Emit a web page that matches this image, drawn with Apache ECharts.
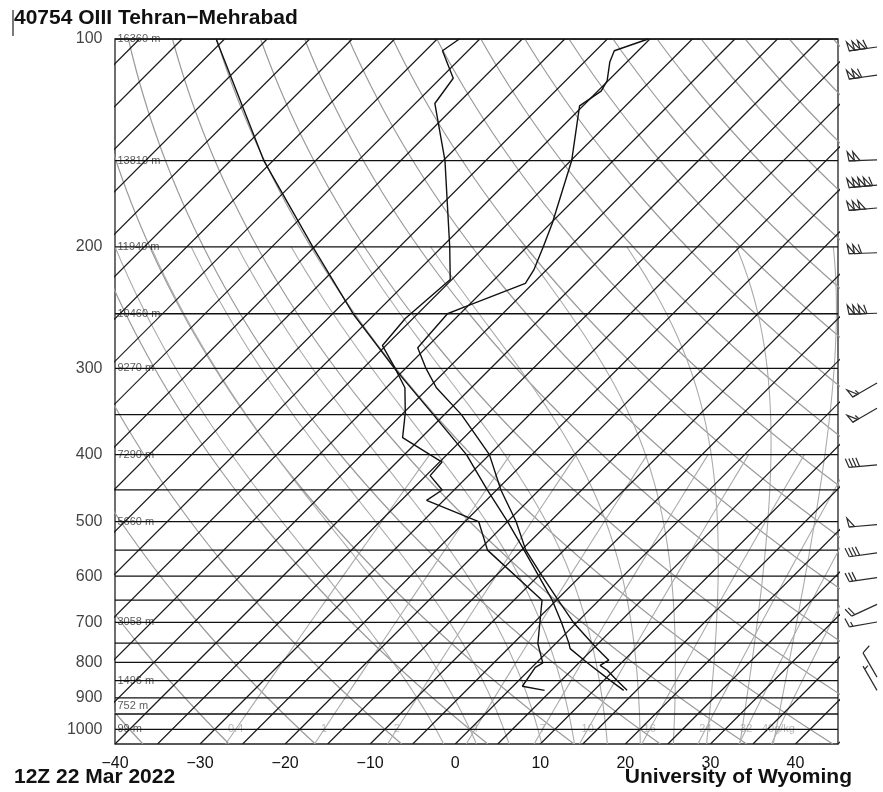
<!DOCTYPE html>
<html><head><meta charset="utf-8">
<script src="https://cdn.jsdelivr.net/npm/echarts/dist/echarts.min.js"></script>
<style>html,body{margin:0;padding:0;background:#fff}#c{width:883px;height:792px}</style>
</head><body><div id="c"></div>
<script>
// ---------- data ----------
const titleText = '40754 OIII Tehran\u2212Mehrabad';
const timeText = '12Z 22 Mar 2022';
const sourceText = 'University of Wyoming';

const pressureTicks = [100, 200, 300, 400, 500, 600, 700, 800, 900, 1000];
const isobars = [100, 150, 200, 250, 300, 350, 400, 450, 500, 550, 600, 650, 700, 750, 800, 850, 900, 950, 1000];
const heightP = [100, 150, 200, 250, 300, 400, 500, 700, 850, 925, 1000];
const heightText = ['16360 m', '13810 m', '11940 m', '10460 m', '9270 m', '7290 m', '5660 m', '3058 m', '1496 m', '752 m', '99 m'];

const mixRatios = [0.4, 1, 2, 4, 7, 10, 16, 24, 32, 40];
const mixLabels = ['0.4', '1', '2', '4', '7', '10', '16', '24', '32', '40g/kg'];
const dryThetaC = [-40, -30, -20, -10, 0, 10, 20, 30, 40, 50, 60, 70, 80, 90, 100, 110, 120, 130, 140, 150, 160, 170, 180];
const moistT1000 = [-4, 0, 4, 8, 12, 16, 20, 24, 28, 32, 36];

// sounding: temperature
const tempP = [878, 850, 821, 808, 794, 760, 700, 650, 600, 550, 500, 450, 400, 350, 320, 300, 280, 250, 245, 226, 216, 200, 185, 150, 125, 119, 115, 108, 104, 100];
const tempT = [13.9, 11.6, 9.2, 7.8, 8.2, 5.1, -0.4, -4.8, -9.5, -14.5, -19, -24.5, -30, -38, -44.1, -47.6, -51, -51.5, -50.4, -45.9, -46.5, -48.1, -49.8, -54.9, -60.4, -59.6, -60.1, -62, -62.8, -60.2];
// sounding: dew point
const dewP = [878, 866, 813, 801, 751, 650, 550, 500, 466, 450, 429, 410, 378, 348, 320, 299, 278, 254, 223, 200, 150, 124, 114, 104, 100];
const dewT = [4.2, 1.1, 0.4, 0.75, -2.1, -6.7, -19, -23.4, -32, -31.4, -34.5, -34.7, -42.2, -44.8, -47.8, -51.4, -55.4, -55.9, -55.2, -59.1, -69.8, -77.7, -78.5, -83, -82.4];
// lifted parcel path
const parcelP = [878, 850, 800, 764, 750, 700, 650, 600, 550, 500, 450, 400, 350, 300, 250, 200, 150, 100];
const parcelT = [13.5, 10.8, 5.9, 2.3, 1.5, -1.8, -5.5, -9.9, -14.7, -20, -26.1, -32.7, -41.3, -51.3, -62.6, -75.2, -91.1, -111];

// winds: pressure (hPa), direction (deg), speed (kt)
const windP = [102.7, 112.8, 149.7, 162.8, 175.7, 204, 249.6, 315, 342.6, 414, 505, 555, 603, 659, 699, 840, 878];
const windDir = [262, 262, 268, 265, 265, 268, 268, 240, 240, 265, 265, 262, 262, 245, 260, 330, 330];
const windSpd = [160, 110, 100, 210, 150, 110, 160, 55, 55, 40, 50, 40, 30, 20, 15, 10, 5];

// ---------- chart ----------
const W = 883, H = 792;
const G = {left: 115, right: 45, top: 39, bottom: 48};
const XMIN = -40, XMAX = 45, PBOT = 1050, PTOP = 100;
const plotW = W - G.left - G.right, plotH = H - G.top - G.bottom;
// 45 degree isotherms
const K = (plotH / Math.log10(PBOT / PTOP)) / (plotW / (XMAX - XMIN));
const skew = (T, p) => T + K * Math.log10(PBOT / p);
const FONT = 'Liberation Sans, Arial, sans-serif';

function logSteps(p0, p1, n) {
  const a = [];
  for (let i = 0; i <= n; i++) a.push(p0 * Math.pow(p1 / p0, i / n));
  return a;
}
const es = Tc => 6.112 * Math.exp(17.67 * Tc / (Tc + 243.5));
function moistPath(T1000, pEnd) {
  const Rd = 287.04, cp = 1005.7, Lv = 2.501e6, eps = 0.622;
  const f = (T, p) => {
    const e = es(T - 273.15), rs = eps * e / (p - e);
    return (Rd * T + Lv * rs) / (p * (cp + Lv * Lv * rs * eps / (Rd * T * T)));
  };
  let T = T1000 + 273.15, p = 1000;
  const dp = 2;
  while (p < PBOT) { const k1 = f(T, p), k2 = f(T + k1 * dp, p + dp); T += 0.5 * (k1 + k2) * dp; p += dp; }
  const pts = [[skew(T - 273.15, p), p]];
  while (p > pEnd) {
    const k1 = f(T, p), k2 = f(T - k1 * dp, p - dp);
    T -= 0.5 * (k1 + k2) * dp; p -= dp;
    if (Math.round(p) % 10 === 0) pts.push([skew(T - 273.15, p), p]);
  }
  return pts;
}
function tdFromW(w, p) {
  const e = w * p / (622 + w);
  const l = Math.log(e / 6.112);
  return 243.5 * l / (17.67 - l);
}

const series = [];
const lineS = (data, color, width, z) => ({
  type: 'line', data, showSymbol: false, silent: true, animation: false, z: z || 1,
  lineStyle: {color, width}, clip: true
});
dryThetaC.forEach(th => {
  const d = logSteps(PBOT, PTOP, 60).map(p => [skew((th + 273.15) * Math.pow(p / 1000, 0.2857) - 273.15, p), p]);
  series.push(lineS(d, '#9a9a9a', 1.2, 1));
});
moistT1000.forEach(t => series.push(lineS(moistPath(t, 200), '#ababab', 1.1, 1)));
mixRatios.forEach(w => {
  const d = logSteps(PBOT, 400, 20).map(p => [skew(tdFromW(w, p), p), p]);
  series.push(lineS(d, '#ababab', 1.1, 1));
});
for (let T = -130; T <= 45; T += 5) series.push(lineS([[T, PBOT], [skew(T, PTOP), PTOP]], '#1a1a1a', 1.2, 2));
isobars.forEach(p => series.push(lineS([[XMIN, p], [XMAX, p]], '#111', 1.3, 2)));
const zip = (P, T) => P.map((p, i) => [skew(T[i], p), p]);
series.push(lineS(zip(parcelP, parcelT), '#111', 1.4, 5));
series.push(lineS(zip(tempP, tempT), '#111', 1.4, 5));
series.push(lineS(zip(dewP, dewT), '#111', 1.4, 5));

series.push({
  type: 'scatter', silent: true, animation: false, symbolSize: 1, itemStyle: {color: 'rgba(0,0,0,0)'},
  data: pressureTicks.map(p => [XMIN, p]),
  label: {show: true, position: 'left', distance: 12, formatter: o => String(o.value[1]),
    color: '#111', fontSize: 16, fontFamily: FONT}, clip: false
});
series.push({
  type: 'scatter', silent: true, animation: false, symbolSize: 1, itemStyle: {color: 'rgba(0,0,0,0)'}, z: 1,
  data: heightP.map((p, i) => ({value: [XMIN, p], name: heightText[i]})),
  label: {show: true, position: 'right', distance: 2, formatter: o => o.name,
    color: '#333', fontSize: 11, fontFamily: FONT}
});
series.push({
  type: 'scatter', silent: true, animation: false, symbolSize: 1, itemStyle: {color: 'rgba(0,0,0,0)'}, z: 1,
  data: mixRatios.map((w, i) => ({value: [skew(tdFromW(w, 1000), 1000), 1000], name: mixLabels[i]})),
  label: {show: true, position: 'inside', formatter: o => o.name,
    color: '#a8a8a8', fontSize: 11, fontFamily: FONT}
});
series.push({
  type: 'custom', silent: true, animation: false, clip: false, z: 6,
  data: windP.map((p, i) => [p, windDir[i], windSpd[i]]),
  renderItem: (params, api) => {
    const p = api.value(0), dir = api.value(1) * Math.PI / 180;
    let spd = api.value(2);
    const c = api.coord([XMAX, p]);
    const sx = c[0] + 39, sy = c[1];
    const L = 28, ux = Math.sin(dir), uy = -Math.cos(dir), nx = Math.cos(dir), ny = Math.sin(dir);
    const at = s => [sx + ux * (L - s), sy + uy * (L - s)];
    const st = {stroke: '#2a2a2a', lineWidth: 1.2};
    const kids = [{type: 'line', shape: {x1: sx, y1: sy, x2: sx + ux * L, y2: sy + uy * L}, style: st}];
    let s = 0;
    const fw = 5.5, fh = 9, bl = 9;
    while (spd >= 47.5) {
      const a = at(s), b = at(s + fw);
      kids.push({type: 'polygon', shape: {points: [a, [a[0] + nx * fh + ux * 1.5, a[1] + ny * fh + uy * 1.5], b]}, style: {fill: 'none', stroke: '#2a2a2a', lineWidth: 1.2}});
      s += fw; spd -= 50;
    }
    if (s > 0) s += 1.5;
    while (spd >= 7.5) {
      const a = at(s);
      kids.push({type: 'line', shape: {x1: a[0], y1: a[1], x2: a[0] + nx * bl + ux * 3, y2: a[1] + ny * bl + uy * 3}, style: st});
      s += 3.5; spd -= 10;
    }
    if (spd >= 2.5) {
      if (s === 0) s = 3.5;
      const a = at(s);
      kids.push({type: 'line', shape: {x1: a[0], y1: a[1], x2: a[0] + nx * bl * 0.5 + ux * 1.5, y2: a[1] + ny * bl * 0.5 + uy * 1.5}, style: st});
    }
    return {type: 'group', children: kids};
  }
});

const chart = echarts.init(document.getElementById('c'), null, {renderer: 'canvas'});
chart.setOption({
  animation: false,
  backgroundColor: '#fff',
  grid: Object.assign({show: true, borderColor: '#222', borderWidth: 1.3, backgroundColor: 'transparent'}, G),
  xAxis: {type: 'value', min: XMIN, max: XMAX, interval: 10,
    axisLine: {show: false}, axisTick: {show: false}, splitLine: {show: false},
    axisLabel: {margin: 12, fontSize: 16, color: '#111', fontFamily: FONT,
      formatter: v => (v <= 40 ? String(v).replace('-', '\u2212') : '')}},
  yAxis: {type: 'log', logBase: 10, min: PTOP, max: PBOT, inverse: true,
    axisLine: {show: false}, axisTick: {show: false}, splitLine: {show: false}, axisLabel: {show: false}},
  graphic: [
    {type: 'line', shape: {x1: 13, y1: 10, x2: 13, y2: 36}, style: {stroke: '#222', lineWidth: 1.2}},
    {type: 'text', left: 14, top: 8, style: {text: titleText, font: 'bold 21px Liberation Sans, Arial, sans-serif', fill: '#111'}},
    {type: 'text', left: 14, top: 767, style: {text: timeText, font: 'bold 21px Liberation Sans, Arial, sans-serif', fill: '#111'}},
    {type: 'text', right: 31, top: 767, style: {text: sourceText, font: 'bold 21px Liberation Sans, Arial, sans-serif', fill: '#111'}}
  ],
  series
});
</script></body></html>
